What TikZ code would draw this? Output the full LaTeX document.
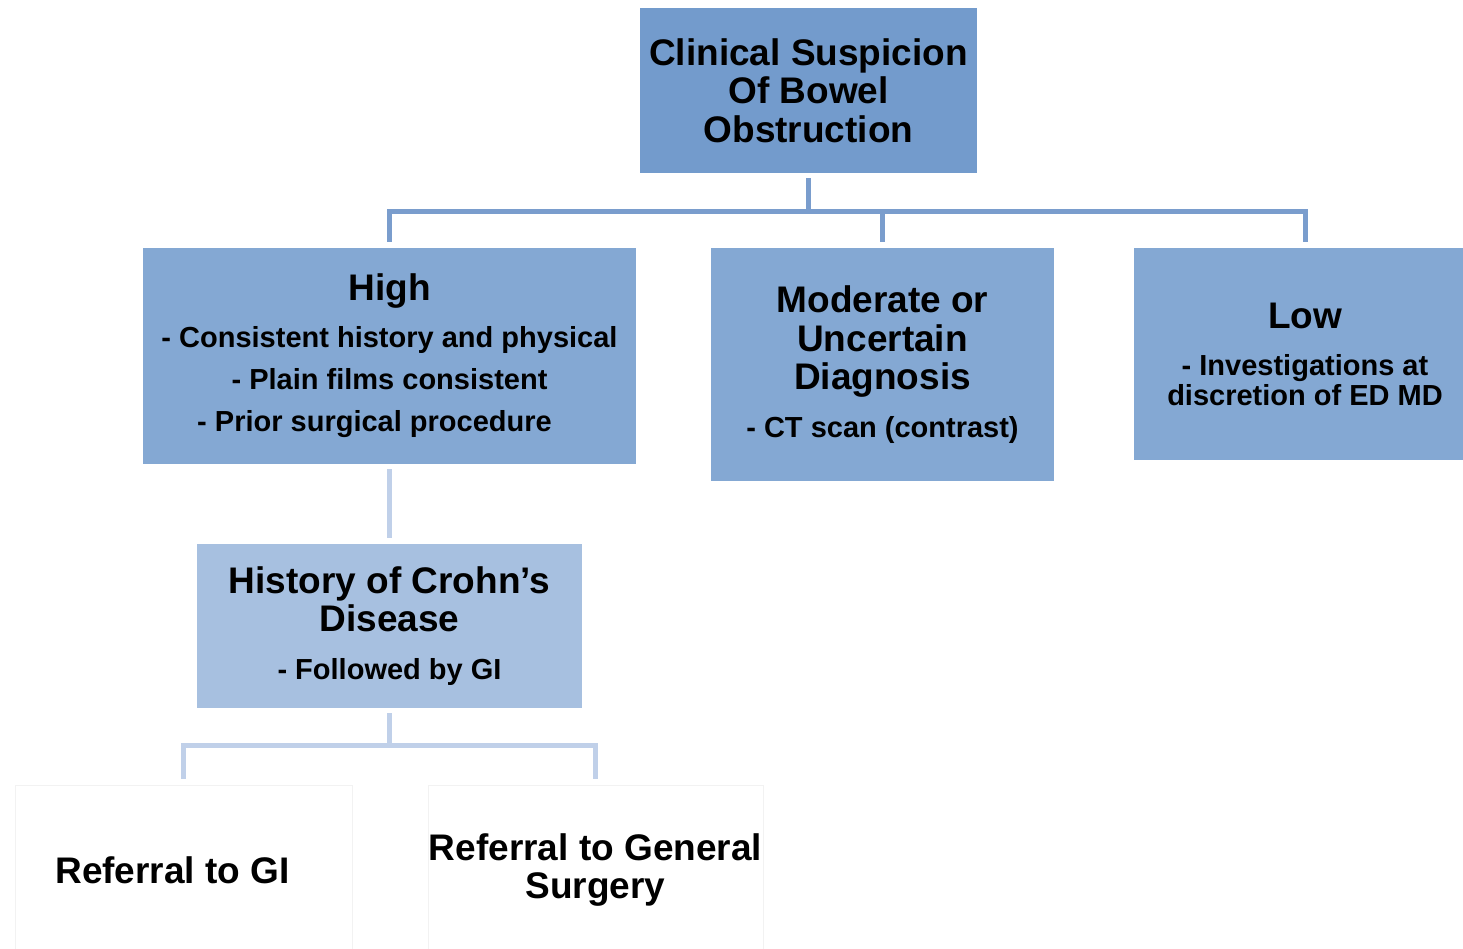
\documentclass[tikz,border=0pt]{standalone}
\usepackage{fontspec}
\setmainfont{Liberation Sans}
\usepackage{xcolor}
\usepackage{tikz}
\usetikzlibrary{positioning}
\definecolor{topblue}{RGB}{115,155,204}
\definecolor{midblue}{RGB}{132,168,211}
\definecolor{paleblue}{RGB}{167,192,224}
\definecolor{linkblue}{RGB}{122,157,205}
\definecolor{linkpale}{RGB}{192,208,233}

\newcommand{\titlefont}{\fontsize{37}{38.5}\selectfont}
\newcommand{\itemfont}{\fontsize{29}{42}\selectfont}

\begin{document}
\begin{tikzpicture}[x=1pt,y=-1pt,
  box/.style={fill=#1, draw=none, inner sep=0pt, align=center, font=\bfseries},
  refbox/.style={fill=white, draw=black!5, line width=1pt, inner sep=0pt, align=center, font=\bfseries\titlefont},
  link/.style={draw=#1, line width=5pt, shorten <=5pt, shorten >=6pt}]
\useasboundingbox (0,0) rectangle (1463,948);
\clip (0,0) rectangle (1463,948);

% Top of the tree
\node[box=topblue, minimum width=337, minimum height=165, font=\bfseries\titlefont]
  (suspicion) at (808.5,90.5) {Clinical Suspicion\\Of Bowel\\Obstruction};

% Level of suspicion
\node[box=midblue, minimum width=493, minimum height=216, font=\bfseries\itemfont]
  (high) at (389.5,356) {{\titlefont High}\\[5pt]
  - Consistent history and physical\\
  - Plain films consistent\\
  - Prior surgical procedure\hspace*{30pt}};
\node[box=midblue, minimum width=343, minimum height=233, font=\bfseries\titlefont]
  (moderate) at (882.5,364.5) {Moderate or\\Uncertain\\Diagnosis\\[9pt]
  {\itemfont - CT scan (contrast)}};
\node[box=midblue, minimum width=342, minimum height=212, font=\bfseries\fontsize{29}{30}\selectfont]
  (low) at (1305,354) {{\titlefont Low}\\[17pt]
  - Investigations at\\discretion of ED MD};

% Crohn's branch
\node[box=paleblue, minimum width=385, minimum height=164, font=\bfseries\titlefont]
  (crohn) at (389.5,626) {History of Crohn’s\\Disease\\[9pt]
  {\itemfont - Followed by GI}};

% Referrals
\node[refbox, minimum width=337, minimum height=170] (gi) at (183.5,870)
  {Referral to GI\hspace*{22pt}};
\node[refbox, minimum width=335, minimum height=170] (surgery) at (595.5,870)
  {Referral to General\\Surgery};

% Connectors
\draw[link=linkblue] (suspicion.south) -- ++(0,38) -| (high.north);
\draw[link=linkblue] (suspicion.south) -- ++(0,38) -| (moderate.north);
\draw[link=linkblue] (suspicion.south) -- ++(0,38) -| (low.north);
\draw[link=linkpale] (high.south) -- (crohn.north);
\draw[link=linkpale] (crohn.south) -- ++(0,37) -| (gi.north);
\draw[link=linkpale] (crohn.south) -- ++(0,37) -| (surgery.north);
\end{tikzpicture}
\end{document}
